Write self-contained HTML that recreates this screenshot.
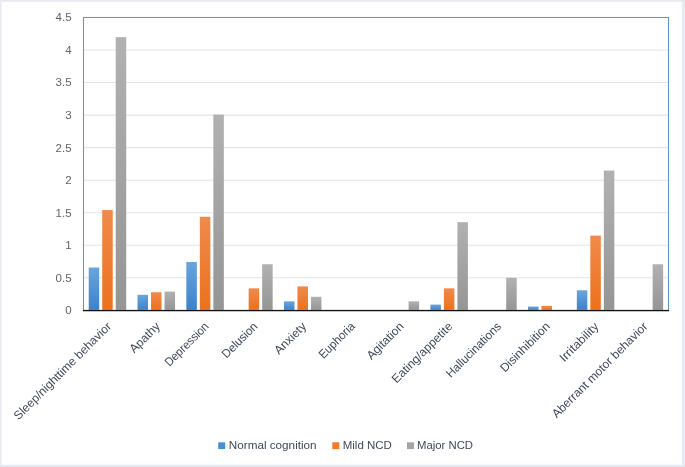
<!DOCTYPE html>
<html><head><meta charset="utf-8"><title>Chart</title>
<style>
html,body{margin:0;padding:0;background:#fff;}
body{width:685px;height:467px;overflow:hidden;}
svg{display:block;}
text{font-family:"Liberation Sans",sans-serif;}
.yl{font-size:11.5px;fill:#5f6368;text-anchor:end;}
.cl{font-size:12px;fill:#3f4858;text-anchor:end;}
.lg{font-size:11.5px;fill:#3f4858;}
</style></head><body>
<svg width="685" height="467" viewBox="0 0 685 467">
<defs>
<linearGradient id="gb" x1="0" y1="0" x2="0" y2="1"><stop offset="0" stop-color="#6aa5dc"/><stop offset="1" stop-color="#3b81cb"/></linearGradient>
<linearGradient id="go" x1="0" y1="0" x2="0" y2="1"><stop offset="0" stop-color="#f08a4b"/><stop offset="1" stop-color="#ec711c"/></linearGradient>
<linearGradient id="gg" x1="0" y1="0" x2="0" y2="1"><stop offset="0" stop-color="#b1b1b1"/><stop offset="1" stop-color="#959595"/></linearGradient>
</defs>
<rect x="0" y="0" width="685" height="467" fill="#e7eaf1"/>
<rect x="1.6" y="1.8" width="680.5" height="463" fill="#fefefe"/>
<rect x="8" y="6" width="669" height="455" fill="#ffffff"/>

<line x1="83.5" x2="668.5" y1="277.77" y2="277.77" stroke="#e2e4e8" stroke-width="1.05"/>
<line x1="83.5" x2="668.5" y1="245.23" y2="245.23" stroke="#e2e4e8" stroke-width="1.05"/>
<line x1="83.5" x2="668.5" y1="212.70" y2="212.70" stroke="#e2e4e8" stroke-width="1.05"/>
<line x1="83.5" x2="668.5" y1="180.17" y2="180.17" stroke="#e2e4e8" stroke-width="1.05"/>
<line x1="83.5" x2="668.5" y1="147.63" y2="147.63" stroke="#e2e4e8" stroke-width="1.05"/>
<line x1="83.5" x2="668.5" y1="115.10" y2="115.10" stroke="#e2e4e8" stroke-width="1.05"/>
<line x1="83.5" x2="668.5" y1="82.57" y2="82.57" stroke="#e2e4e8" stroke-width="1.05"/>
<line x1="83.5" x2="668.5" y1="50.03" y2="50.03" stroke="#e2e4e8" stroke-width="1.05"/>
<rect x="88.72" y="267.51" width="10.5" height="42.79" fill="url(#gb)"/>
<rect x="102.22" y="210.05" width="10.5" height="100.25" fill="url(#go)"/>
<rect x="115.72" y="37.17" width="10.5" height="273.13" fill="url(#gg)"/>
<rect x="137.53" y="294.83" width="10.5" height="15.47" fill="url(#gb)"/>
<rect x="151.03" y="292.23" width="10.5" height="18.07" fill="url(#go)"/>
<rect x="164.53" y="291.58" width="10.5" height="18.72" fill="url(#gg)"/>
<rect x="186.34" y="261.98" width="10.5" height="48.32" fill="url(#gb)"/>
<rect x="199.84" y="216.75" width="10.5" height="93.55" fill="url(#go)"/>
<rect x="213.34" y="114.60" width="10.5" height="195.70" fill="url(#gg)"/>
<rect x="248.66" y="288.33" width="10.5" height="21.97" fill="url(#go)"/>
<rect x="262.16" y="264.25" width="10.5" height="46.05" fill="url(#gg)"/>
<rect x="283.97" y="301.34" width="10.5" height="8.96" fill="url(#gb)"/>
<rect x="297.47" y="286.38" width="10.5" height="23.92" fill="url(#go)"/>
<rect x="310.97" y="296.79" width="10.5" height="13.51" fill="url(#gg)"/>
<rect x="408.59" y="301.34" width="10.5" height="8.96" fill="url(#gg)"/>
<rect x="430.40" y="304.59" width="10.5" height="5.71" fill="url(#gb)"/>
<rect x="443.90" y="288.33" width="10.5" height="21.97" fill="url(#go)"/>
<rect x="457.40" y="222.16" width="10.5" height="88.14" fill="url(#gg)"/>
<rect x="506.21" y="277.79" width="10.5" height="32.51" fill="url(#gg)"/>
<rect x="528.01" y="306.55" width="10.5" height="3.75" fill="url(#gb)"/>
<rect x="541.51" y="305.90" width="10.5" height="4.40" fill="url(#go)"/>
<rect x="576.83" y="290.28" width="10.5" height="20.02" fill="url(#gb)"/>
<rect x="590.33" y="235.62" width="10.5" height="74.68" fill="url(#go)"/>
<rect x="603.83" y="170.56" width="10.5" height="139.74" fill="url(#gg)"/>
<rect x="652.64" y="264.25" width="10.5" height="46.05" fill="url(#gg)"/>
<rect x="83.5" y="17.5" width="585.0" height="292.8" fill="none" stroke="#5f95cd" stroke-width="1.05"/>
<line x1="82.9" x2="669.1" y1="310.65000000000003" y2="310.65000000000003" stroke="#111" stroke-width="1.15"/>
<text class="yl" x="71.6" y="314.20">0</text>
<text class="yl" x="71.6" y="281.67">0.5</text>
<text class="yl" x="71.6" y="249.13">1</text>
<text class="yl" x="71.6" y="216.60">1.5</text>
<text class="yl" x="71.6" y="184.07">2</text>
<text class="yl" x="71.6" y="151.53">2.5</text>
<text class="yl" x="71.6" y="119.00">3</text>
<text class="yl" x="71.6" y="86.47">3.5</text>
<text class="yl" x="71.6" y="53.93">4</text>
<text class="yl" x="71.6" y="21.40">4.5</text>
<text class="cl" x="111.97" y="327.10" textLength="132.1" lengthAdjust="spacingAndGlyphs" transform="rotate(-45 111.97 327.10)">Sleep/nighttime behavior</text>
<text class="cl" x="160.72" y="327.10" textLength="37.4" lengthAdjust="spacingAndGlyphs" transform="rotate(-45 160.72 327.10)">Apathy</text>
<text class="cl" x="209.47" y="327.10" textLength="56.5" lengthAdjust="spacingAndGlyphs" transform="rotate(-45 209.47 327.10)">Depression</text>
<text class="cl" x="258.23" y="327.10" textLength="44.8" lengthAdjust="spacingAndGlyphs" transform="rotate(-45 258.23 327.10)">Delusion</text>
<text class="cl" x="306.98" y="327.10" textLength="39.4" lengthAdjust="spacingAndGlyphs" transform="rotate(-45 306.98 327.10)">Anxiety</text>
<text class="cl" x="355.73" y="327.10" textLength="45.6" lengthAdjust="spacingAndGlyphs" transform="rotate(-45 355.73 327.10)">Euphoria</text>
<text class="cl" x="404.48" y="327.10" textLength="46.7" lengthAdjust="spacingAndGlyphs" transform="rotate(-45 404.48 327.10)">Agitation</text>
<text class="cl" x="453.23" y="327.10" textLength="80.1" lengthAdjust="spacingAndGlyphs" transform="rotate(-45 453.23 327.10)">Eating/appetite</text>
<text class="cl" x="501.98" y="327.10" textLength="72.5" lengthAdjust="spacingAndGlyphs" transform="rotate(-45 501.98 327.10)">Hallucinations</text>
<text class="cl" x="550.73" y="327.10" textLength="64.7" lengthAdjust="spacingAndGlyphs" transform="rotate(-45 550.73 327.10)">Disinhibition</text>
<text class="cl" x="599.48" y="327.10" textLength="49.9" lengthAdjust="spacingAndGlyphs" transform="rotate(-45 599.48 327.10)">Irritability</text>
<text class="cl" x="648.23" y="327.10" textLength="129.4" lengthAdjust="spacingAndGlyphs" transform="rotate(-45 648.23 327.10)">Aberrant motor behavior</text>
<rect x="218.2" y="442.3" width="7" height="6.8" fill="#4a8fd4"/>
<text class="lg" x="228.8" y="449.4" textLength="87.8" lengthAdjust="spacingAndGlyphs">Normal cognition</text>
<rect x="332.3" y="442.3" width="7" height="6.8" fill="#ee7a2b"/>
<text class="lg" x="342.7" y="449.4">Mild NCD</text>
<rect x="407" y="442.3" width="7" height="6.8" fill="#a5a5a5"/>
<text class="lg" x="417.0" y="449.4" textLength="56" lengthAdjust="spacingAndGlyphs">Major NCD</text>
</svg></body></html>
